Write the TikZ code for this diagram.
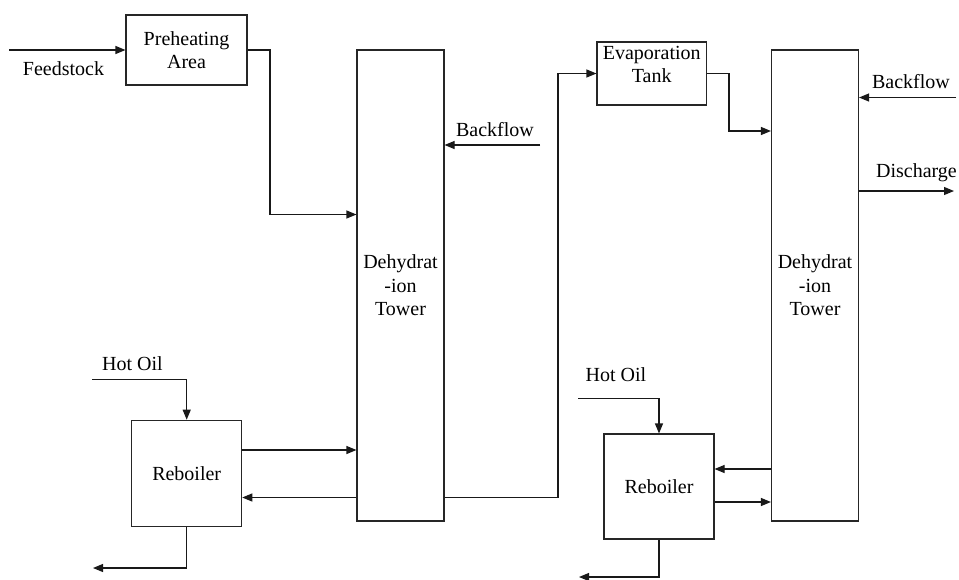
\documentclass[tikz,border=0pt]{standalone}
\usepackage{fontspec}
\setmainfont{Liberation Serif}
\usetikzlibrary{arrows.meta}
\begin{document}
\begin{tikzpicture}[x=1pt,y=-1pt,
  every node/.style={font=\fontsize{20}{23.5}\selectfont, align=center},
  box/.style={draw=black!85, line width=1.1pt, inner sep=0pt},
  lbl/.style={inner sep=0pt},
  arr/.style={draw=black!90, line width=1.1pt, -{Triangle[length=10pt,width=8pt]}},
  ln/.style={draw=black!90, line width=1.1pt}]
\useasboundingbox (0,0) rectangle (959,579);
% boxes
\node[box, minimum width=121pt, minimum height=70pt] (pre) at (186.5,50) {Preheating\\Area};
\node[box, minimum width=87pt, minimum height=471pt] (t1) at (400.5,285.5) {Dehydrat\\-ion\\Tower};
\node[box, minimum width=109.5pt, minimum height=63pt] (evap) at (651.75,73.5) {};
\node[lbl] (evaptext) at (651.75,64.5) {Evaporation\\Tank};
\node[box, minimum width=87pt, minimum height=471pt] (t2) at (815,285.5) {Dehydrat\\-ion\\Tower};
\node[box, minimum width=110pt, minimum height=106.5pt] (reb1) at (186.7,473.5) {Reboiler};
\node[box, minimum width=110pt, minimum height=105pt] (reb2) at (659,486.5) {Reboiler};
% labels
\node[lbl] (feedlab) at (63.5,69) {Feedstock};
\node[lbl] (bf1lab) at (495,130) {Backflow};
\node[lbl] (bf2lab) at (911,82) {Backflow};
\node[lbl] (dislab) at (916.5,173) {Discharge};
\node[lbl] (ho1lab) at (132.5,364) {Hot Oil};
\node[lbl] (ho2lab) at (616,375) {Hot Oil};
% free ends
\coordinate (feedin) at (9,50);
\coordinate (bf1) at (540,145);
\coordinate (bf2) at (956,97.5);
\coordinate (dis) at (954,191);
\coordinate (ho1) at (92,379.5);
\coordinate (ho2) at (578,398.5);
\coordinate (r1out) at (93,568);
\coordinate (r2out) at (579,577);
% connectors
\draw[arr] (feedin) -- (pre.west);
\draw[arr] (pre.east) -- (270,50) |- (t1.west |- 0,214.5);
\draw[arr] (bf1) -- (bf1 -| t1.east);
\draw[arr] (t1.east |- 0,497.5) -| (558,73.5) -- (evap.west);
\draw[arr] (evap.east) -- (729,73.5) |- (t2.west |- 0,131);
\draw[arr] (bf2) -- (bf2 -| t2.east);
\draw[arr] (t2.east |- dis) -- (dis);
\draw[arr] (ho1) -| (reb1.north);
\draw[arr] (reb1.east |- 0,450) -- (t1.west |- 0,450);
\draw[arr] (t1.west |- 0,497.5) -- (reb1.east |- 0,497.5);
\draw[arr] (reb1.south) |- (r1out);
\draw[arr] (ho2) -| (reb2.north);
\draw[arr] (t2.west |- 0,469) -- (reb2.east |- 0,469);
\draw[arr] (reb2.east |- 0,502) -- (t2.west |- 0,502);
\draw[arr] (reb2.south) |- (r2out);
\end{tikzpicture}
\end{document}
